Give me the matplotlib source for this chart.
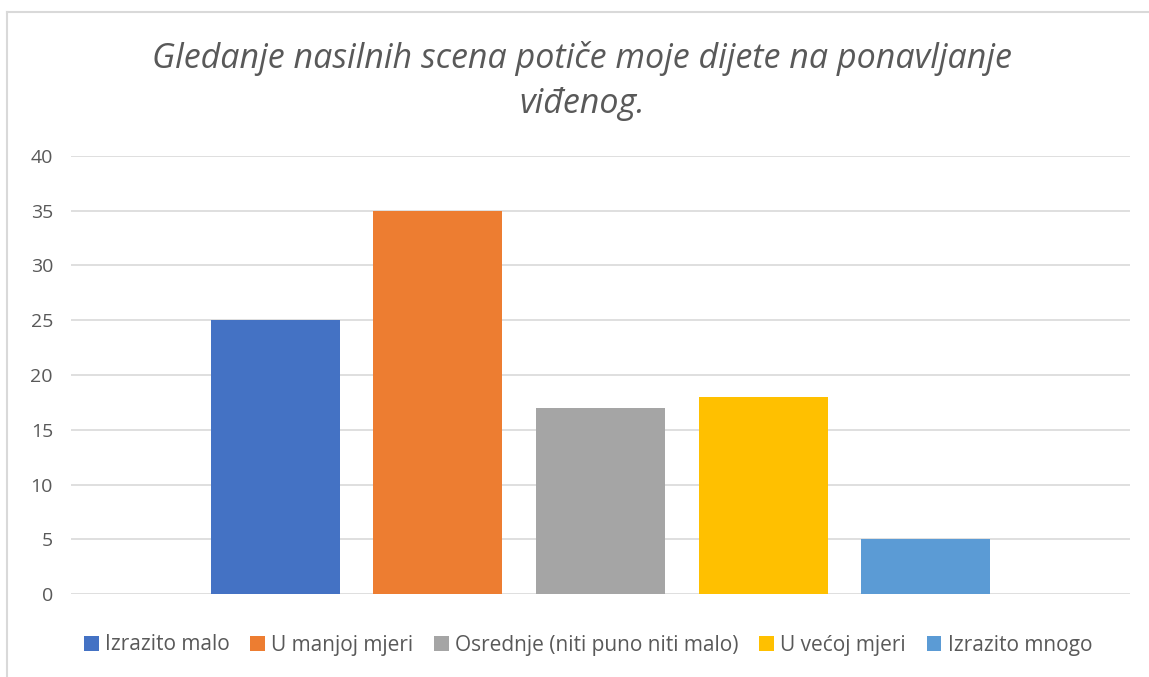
import numpy as np
import matplotlib.pyplot as plt
from matplotlib.lines import Line2D

categories = ['Izrazito malo', 'U manjoj mjeri', 'Osrednje (niti puno niti malo)',
              'U većoj mjeri', 'Izrazito mnogo']
values = [25, 35, 17, 18, 5]
colors = ['#4472C4', '#ED7D31', '#A5A5A5', '#FFC000', '#5B9BD5']
yticks = [0, 5, 10, 15, 20, 25, 30, 35, 40]

W, H = 1149, 677
fig = plt.figure(figsize=(W / 100, H / 100), dpi=100)
ax = fig.add_axes([71 / W, (H - 594) / H, 1059 / W, (594 - 156) / H])

x = np.arange(len(values))
for i in range(len(values)):
    ax.bar(x[i], values[i], width=0.794, color=colors[i], label=categories[i], zorder=3)

ax.set_xlim(2 - 3.258, 2 + 3.258)
ax.set_ylim(0, 40)
ax.set_yticks(yticks)
ax.set_xticks([])
ax.grid(axis='y', color='#D9D9D9', linewidth=1.2, zorder=0)
for s in ax.spines.values():
    s.set_visible(False)
ax.tick_params(axis='y', length=0, pad=13, labelsize=14, labelcolor='#595959')
for lab in ax.get_yticklabels():
    lab.set_fontfamily('Open Sans')

fig.text(582 / W, 1 - 81 / H, 'Gledanje nasilnih scena potiče moje dijete na ponavljanje\nviđenog.',
         ha='center', va='center', fontsize=24.5, style='italic', color='#595959',
         family='Open Sans', linespacing=1.4)

# chart border (left and top edge visible)
fig.add_artist(Line2D([7 / W, 7 / W], [0, 1 - 12 / H], transform=fig.transFigure,
                      color='#D9D9D9', linewidth=1.5))
fig.add_artist(Line2D([7 / W, 1], [1 - 12 / H, 1 - 12 / H], transform=fig.transFigure,
                      color='#D9D9D9', linewidth=1.5))

leg = fig.legend(loc='center', bbox_to_anchor=(588 / W, 1 - 645 / H), ncol=5, frameon=False,
                 handlelength=0.7, handleheight=0.7, handletextpad=0.3,
                 columnspacing=1.0, prop={'family': 'Open Sans', 'size': 15})
for t in leg.get_texts():
    t.set_color('#595959')

fig.savefig('out.png', dpi=100, facecolor='white')
